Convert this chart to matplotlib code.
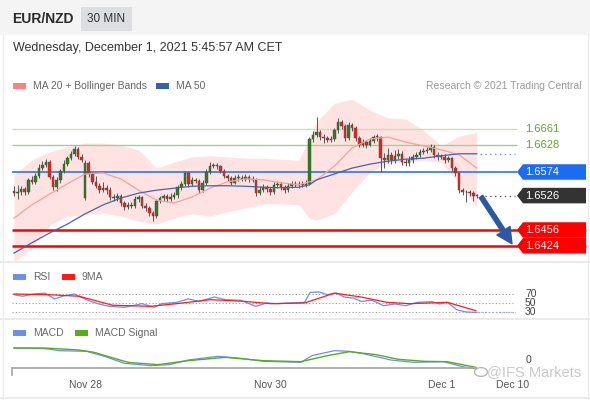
import matplotlib.pyplot as plt
from matplotlib.patches import Rectangle, Polygon, Circle
import matplotlib.lines as mlines

plt.rcParams['font.family'] = ['Liberation Sans', 'DejaVu Sans']

# ---- price data (30 min candles, EUR/NZD) ----
first_open = 1.6535
monday_open = 1.6521   # weekend gap, candle 20
closes = [1.6531, 1.6533, 1.6539, 1.6533, 1.6558, 1.6554, 1.6566, 1.6582, 1.6588, 1.6594,
          1.6564, 1.6543, 1.6558, 1.6576, 1.6590, 1.6602, 1.6611, 1.6621, 1.6605, 1.6598,
          1.6592, 1.6570, 1.6554, 1.6546, 1.6537, 1.6541, 1.6537, 1.6523, 1.6521, 1.6525,
          1.6511, 1.6503, 1.6507, 1.6505, 1.6519, 1.6523, 1.6505, 1.6501, 1.6491, 1.6485,
          1.6515, 1.6521, 1.6525, 1.6519, 1.6523, 1.6527, 1.6543, 1.6550, 1.6572, 1.6550,
          1.6558, 1.6556, 1.6537, 1.6552, 1.6574, 1.6586, 1.6588, 1.6586, 1.6576, 1.6566,
          1.6562, 1.6552, 1.6562, 1.6562, 1.6560, 1.6564, 1.6560, 1.6558, 1.6531, 1.6537,
          1.6543, 1.6539, 1.6533, 1.6548, 1.6550, 1.6543, 1.6537, 1.6546, 1.6550, 1.6548,
          1.6550, 1.6548, 1.6550, 1.6641, 1.6649, 1.6655, 1.6645, 1.6643, 1.6639, 1.6641,
          1.6659, 1.6676, 1.6668, 1.6643, 1.6670, 1.6663, 1.6643, 1.6629, 1.6635, 1.6629,
          1.6637, 1.6645, 1.6645, 1.6602, 1.6598, 1.6609, 1.6598, 1.6607, 1.6611, 1.6594,
          1.6592, 1.6598, 1.6605, 1.6609, 1.6615, 1.6617, 1.6619, 1.6625, 1.6609, 1.6605,
          1.6605, 1.6598, 1.6602, 1.6582, 1.6572, 1.6537, 1.6533, 1.6533, 1.6531, 1.6525,
          1.6526]
highs = [1.6545, 1.6548, 1.6546, 1.6544, 1.6562, 1.6565, 1.6571, 1.6590, 1.6596, 1.6600,
         1.6598, 1.6568, 1.6563, 1.6580, 1.6599, 1.6606, 1.6617, 1.6627, 1.6624, 1.6610,
         1.6598, 1.6596, 1.6575, 1.6566, 1.6551, 1.6553, 1.6548, 1.6543, 1.6530, 1.6532,
         1.6529, 1.6516, 1.6513, 1.6512, 1.6525, 1.6527, 1.6526, 1.6510, 1.6504, 1.6494,
         1.6519, 1.6526, 1.6530, 1.6529, 1.6531, 1.6534, 1.6547, 1.6556, 1.6576, 1.6575,
         1.6564, 1.6562, 1.6560, 1.6557, 1.6580, 1.6594, 1.6593, 1.6592, 1.6589, 1.6580,
         1.6570, 1.6566, 1.6568, 1.6569, 1.6567, 1.6570, 1.6568, 1.6566, 1.6562, 1.6546,
         1.6549, 1.6548, 1.6543, 1.6553, 1.6556, 1.6554, 1.6547, 1.6552, 1.6555, 1.6556,
         1.6555, 1.6556, 1.6557, 1.6646, 1.6657, 1.6686, 1.6660, 1.6651, 1.6648, 1.6647,
         1.6664, 1.6684, 1.6680, 1.6672, 1.6675, 1.6674, 1.6667, 1.6648, 1.6642, 1.6640,
         1.6643, 1.6650, 1.6651, 1.6648, 1.6612, 1.6622, 1.6615, 1.6618, 1.6620, 1.6616,
         1.6600, 1.6606, 1.6611, 1.6615, 1.6621, 1.6623, 1.6625, 1.6631, 1.6628, 1.6614,
         1.6611, 1.6610, 1.6607, 1.6605, 1.6586, 1.6575, 1.6541, 1.6538, 1.6537, 1.6535,
         1.6530]
lows = [1.6525, 1.6520, 1.6528, 1.6527, 1.6530, 1.6550, 1.6549, 1.6562, 1.6578, 1.6584,
        1.6560, 1.6538, 1.6535, 1.6552, 1.6572, 1.6586, 1.6598, 1.6607, 1.6600, 1.6594,
        1.6517, 1.6563, 1.6549, 1.6541, 1.6532, 1.6534, 1.6530, 1.6518, 1.6515, 1.6514,
        1.6505, 1.6497, 1.6499, 1.6500, 1.6501, 1.6513, 1.6500, 1.6494, 1.6484, 1.6474,
        1.6480, 1.6510, 1.6516, 1.6512, 1.6516, 1.6519, 1.6522, 1.6538, 1.6546, 1.6544,
        1.6546, 1.6551, 1.6531, 1.6533, 1.6548, 1.6570, 1.6582, 1.6580, 1.6572, 1.6561,
        1.6556, 1.6547, 1.6549, 1.6556, 1.6555, 1.6556, 1.6554, 1.6553, 1.6526, 1.6527,
        1.6533, 1.6534, 1.6528, 1.6530, 1.6542, 1.6538, 1.6532, 1.6534, 1.6541, 1.6543,
        1.6542, 1.6544, 1.6543, 1.6547, 1.6634, 1.6645, 1.6640, 1.6632, 1.6634, 1.6635,
        1.6637, 1.6654, 1.6662, 1.6637, 1.6640, 1.6657, 1.6638, 1.6624, 1.6625, 1.6623,
        1.6626, 1.6632, 1.6638, 1.6574, 1.6583, 1.6592, 1.6590, 1.6593, 1.6601, 1.6588,
        1.6586, 1.6587, 1.6593, 1.6600, 1.6604, 1.6611, 1.6612, 1.6614, 1.6603, 1.6599,
        1.6600, 1.6593, 1.6594, 1.6576, 1.6566, 1.6531, 1.6527, 1.6513, 1.6525, 1.6516,
        1.6521]

# indicators at these candle positions
ind_idx = [0, 5, 10, 15, 20, 25, 30, 35, 40, 45, 50, 55, 60, 65, 70, 75, 80, 83, 85,
           90, 95, 100, 105, 110, 115, 120, 125, 130]
ma20 = [1.6480, 1.6507, 1.6529, 1.6550, 1.6570, 1.6572, 1.6560, 1.6537, 1.6517, 1.6511,
        1.6523, 1.6541, 1.6554, 1.6560, 1.6558, 1.6552, 1.6548, 1.6554, 1.6558, 1.6586,
        1.6623, 1.6641, 1.6645, 1.6635, 1.6627, 1.6619, 1.6609, 1.6582]
ma50 = [1.6409, 1.6430, 1.6450, 1.6468, 1.6489, 1.6507, 1.6521, 1.6531, 1.6537, 1.6541,
        1.6545, 1.6546, 1.6546, 1.6545, 1.6543, 1.6542, 1.6543, 1.6548, 1.6558, 1.6570,
        1.6582, 1.6590, 1.6596, 1.6600, 1.6602, 1.6607, 1.6611, 1.6611]
bb_upper = [1.6568, 1.6598, 1.6615, 1.6625, 1.6633, 1.6633, 1.6629, 1.6619, 1.6582, 1.6594,
            1.6605, 1.6607, 1.6605, 1.6602, 1.6602, 1.6600, 1.6598, 1.6643, 1.6676, 1.6714,
            1.6722, 1.6700, 1.6684, 1.6682, 1.6659, 1.6627, 1.6647, 1.6655]
bb_lower = [1.6391, 1.6419, 1.6466, 1.6484, 1.6487, 1.6491, 1.6484, 1.6474, 1.6468, 1.6480,
            1.6489, 1.6484, 1.6493, 1.6501, 1.6509, 1.6509, 1.6507, 1.6480, 1.6476, 1.6489,
            1.6533, 1.6574, 1.6592, 1.6594, 1.6598, 1.6594, 1.6550, 1.6503]

rsi_idx = [0, 2.4, 5.6, 8.7, 11.4, 14, 17, 20.4, 23.5, 26.7, 31, 36, 39.4, 41.5, 45.7,
           48.9, 52, 56.3, 59.4, 63.7, 67.9, 71, 74, 77.4, 81.6, 83.2, 85.8, 88, 90.6,
           92.7, 95.3, 97.5, 100.6, 103.8, 107, 110, 113.3, 117.5, 119.6, 121.7, 124.4, 127, 130]
rsi = [68.5, 65, 70, 72, 59, 66, 70, 57, 48.5, 42.6, 40.4, 48.5, 40.4, 48.5, 51.5,
       59, 53.7, 63.3, 57.4, 56, 42.6, 50, 48.5, 50, 51.5, 73.7, 74.4, 68.5, 72,
       63.3, 61, 53.7, 56, 44, 47.8, 44, 51.5, 53, 47.8, 51.5, 35, 30, 29]
rsi_ma_idx = [0, 9.8, 18.3, 27.7, 38.3, 45.7, 55.2, 64.7, 72.1, 81.6, 90, 97.5, 104.8,
              111.2, 121.7, 129.7]
rsi_ma = [70, 68.5, 65, 45, 42.6, 48.5, 57.4, 53.7, 48.5, 50, 72, 63.3, 51.5, 48.5, 51.5, 33]

macd_idx = [0, 8.7, 12.7, 20.4, 25.7, 31, 38.3, 43.6, 48.9, 57.3, 63.7, 70, 80.6, 83.7,
            90, 94.2, 98.5, 105.9, 112.2, 120.7, 126, 129.7]
macd = [0.00072, 0.00068, 0.00056, 0.00052, 0.00020, -0.00020, -0.00034, -0.00028, 0.0,
        0.00022, 0.00010, -0.00008, -0.00014, 0.00026, 0.00056, 0.00052, 0.00036, 0.0,
        -0.00014, -0.00010, -0.00040, -0.00054]
signal_idx = [0, 8.7, 18.2, 22.5, 32, 40.4, 48.9, 59.4, 70, 80.6, 88, 94.3, 101.7, 108,
              115.4, 121.7, 129.7]
signal = [0.00072, 0.00072, 0.00060, 0.00046, -0.00014, -0.00028, -0.00004, 0.00016,
          -0.00004, -0.00010, 0.00026, 0.00050, 0.00032, 0.00004, -0.00008, -0.00010, -0.00044]

resistances = [1.6661, 1.6628]
pivot = 1.6574
last_price = 1.6526
supports = [1.6456, 1.6424]
target = 1.6428

date_ticks = [20, 72, 120, 140]
date_labels = ['Nov 28', 'Nov 30', 'Dec 1', 'Dec 10']

# ---- layout helpers (pixel positions of the 590x400 picture) ----
W, H = 590, 400


def fx(px):
    return px / W


def fy(py):
    return 1 - py / H


def px2idx(px):
    return (px - 14) / 3.56


XMIN, XMAX = px2idx(12), px2idx(588)
GRAY = '#666666'

fig = plt.figure(figsize=(5.9, 4.0), dpi=100)
fig.patch.set_facecolor('white')

# header
fig.add_artist(Rectangle((0, fy(35)), 1, 35 / H, transform=fig.transFigure,
                         fc='#f4f4f4', ec='none'))
fig.add_artist(Rectangle((fx(81), fy(31)), 51 / W, 24 / H, transform=fig.transFigure,
                         fc='#dcdee2', ec='none'))
fig.text(fx(12), fy(19), 'EUR/NZD', fontsize=10, fontweight='bold', color='#2b2b2b', va='center')
fig.text(fx(106.5), fy(19), '30 MIN', fontsize=8.5, color='#333333', va='center', ha='center')
fig.text(fx(13), fy(48), 'Wednesday, December 1, 2021 5:45:57 AM CET', fontsize=9,
         color='#333333', va='center')

# panel separators / frame
for yy in (262, 319):
    fig.add_artist(mlines.Line2D([0, 1], [fy(yy), fy(yy)], color='#e6e6e6', lw=1.2))
fig.add_artist(mlines.Line2D([fx(2.5), fx(2.5)], [fy(35), 0], color='#ececec', lw=1))
fig.add_artist(mlines.Line2D([fx(588), fx(588)], [fy(35), 0], color='#ececec', lw=1))
fig.add_artist(mlines.Line2D([0, 1], [fy(398), fy(398)], color='#ececec', lw=1.5))


def legend_item(x, y, color, label, w=13):
    fig.add_artist(Rectangle((fx(x), fy(y + 3)), w / W, 6 / H, transform=fig.transFigure,
                             fc=color, ec='none'))
    fig.text(fx(x + w + 7), fy(y), label, fontsize=7.5, color=GRAY, va='center')


legend_item(13, 86, '#ff8080', 'MA 20 + Bollinger Bands')
legend_item(156, 86, '#3760a6', 'MA 50')
fig.text(fx(581), fy(86), 'Research \u00a9 2021 Trading Central', fontsize=7.5,
         color='#9a9a9a', va='center', ha='right')

# ---- main price panel ----
ax = fig.add_axes([fx(12), fy(260), 576 / W, 165 / H])
ax.set_xlim(XMIN, XMAX)
ax.set_ylim(1.6395, 1.67306)
ax.axis('off')

ax.fill_between(ind_idx, bb_lower, bb_upper, color='#ffe3e3', lw=0, zorder=1)
ax.plot(ind_idx, ma20, color='#f5a0a0', lw=0.9, zorder=5)
ax.plot(ind_idx, ma50, color='#4066ad', lw=0.9, zorder=5)

x = list(range(len(closes)))
opens = [first_open] + closes[:-1]
opens[20] = monday_open
colors = ['#2f7d1f' if c >= o else '#e3261c' for o, c in zip(opens, closes)]
bottoms = [min(o, c) for o, c in zip(opens, closes)]
heights = [max(abs(c - o), 0.00012) for o, c in zip(opens, closes)]
ax.vlines(x, lows, highs, color='#555555', lw=0.7, zorder=3)
ax.bar(x, heights, bottom=bottoms, width=0.72, color=colors, edgecolor='#444444',
       lw=0.3, zorder=4)

# levels
ax.hlines(resistances, XMIN, px2idx(517), colors=['#c7e2b5', '#a5cf8a'], lw=1.0, zorder=2)
for lv in resistances:
    ax.text(px2idx(525), lv, f'{lv:.4f}', color='#66a32a', fontsize=8, va='center')
ax.hlines(pivot, XMIN, px2idx(517), color='#3f7fe6', lw=1.3, zorder=2)
ax.hlines(supports, XMIN, px2idx(586), color='#ff0000', lw=1.8, zorder=2)
ax.hlines(last_price, px2idx(480), px2idx(515), color='#555555', lw=1, ls=(0, (1, 2.5)))
ax.hlines(ma50[-1], px2idx(480), px2idx(515), color='#6f8fd0', lw=1, ls=(0, (1, 2.5)))


def price_tag(level, color):
    h = 0.00158
    x0, x1, x2 = px2idx(517), px2idx(523), px2idx(586)
    ax.add_patch(Polygon([(x0, level), (x1, level + h), (x2, level + h),
                          (x2, level - h), (x1, level - h)], closed=True,
                         fc=color, ec='none', zorder=6))
    ax.text(px2idx(525), level, f'{level:.4f}', color='white', fontsize=8,
            va='center', zorder=7)


price_tag(pivot, '#1c6cf2')
price_tag(last_price, '#333333')
for lv in supports:
    price_tag(lv, '#ff0000')

ax.annotate('', xy=(px2idx(512), target), xytext=(px2idx(481), last_price - 0.0002),
            arrowprops=dict(arrowstyle='simple,head_length=0.8,head_width=0.8,tail_width=0.22',
                            mutation_scale=14, fc='#2c5aa0', ec='#2c5aa0',
                            shrinkA=0, shrinkB=0), zorder=8)

# ---- RSI panel ----
rax = fig.add_axes([fx(12), fy(316), 576 / W, 30 / H])
rax.set_xlim(XMIN, XMAX)
rax.set_ylim(21.1, 87.8)
rax.axis('off')
rax.hlines([70, 50, 30], XMIN, px2idx(515), colors='#9a9a9a', lw=0.8, linestyles=(0, (1, 2)))
for lv in (70, 50, 30):
    rax.text(px2idx(525), lv, str(lv), fontsize=7.5, color='#444444', va='center')
rax.plot(rsi_idx, rsi, color='#6d8fe6', lw=0.9)
rax.plot(rsi_ma_idx, rsi_ma, color='#ff1a1a', lw=0.9)
rax.hlines(rsi[-1], rsi_idx[-1], px2idx(515), color='#8aa5ea', lw=0.9, ls=(0, (1, 2)))
legend_item(13, 277, '#6d8fe6', 'RSI')
legend_item(62, 277, '#ff1a1a', '9MA')

# ---- MACD panel ----
max_ = fig.add_axes([fx(12), fy(370), 576 / W, 32 / H])
max_.set_xlim(XMIN, XMAX)
max_.set_ylim(-0.0006, 0.00132)
max_.plot(macd_idx, macd, color='#6d8fe6', lw=0.9)
max_.plot(signal_idx, signal, color='#5aaa1e', lw=1.0)
max_.text(px2idx(526), 0, '0', fontsize=7.5, color='#444444', va='center')
for s in max_.spines.values():
    s.set_visible(False)
max_.set_yticks([])
max_.set_xticks(date_ticks)
max_.set_xticklabels(date_labels)
max_.tick_params(axis='x', length=0, pad=7, labelsize=7.5, labelcolor='#555555')
max_.patch.set_alpha(0)
legend_item(13, 333, '#6d8fe6', 'MACD')
legend_item(75, 333, '#5aaa1e', 'MACD Signal')

# time axis line
fig.add_artist(mlines.Line2D([fx(12), fx(476)], [fy(368), fy(368)], color='#aaaaaa', lw=1.3))
fig.add_artist(mlines.Line2D([fx(12), fx(12)], [fy(368), fy(375)], color='#aaaaaa', lw=1.3))

# watermark
fig.add_artist(Circle((fx(481), fy(372)), 6.5 / W, transform=fig.transFigure,
                      fc='none', ec='#b8b8b8', lw=1.0))
fig.text(fx(487), fy(372), '@IFS Markets', fontsize=10.5, color='#c4c4c4', va='center',
         alpha=0.9)

fig.savefig('out.png', dpi=100)
